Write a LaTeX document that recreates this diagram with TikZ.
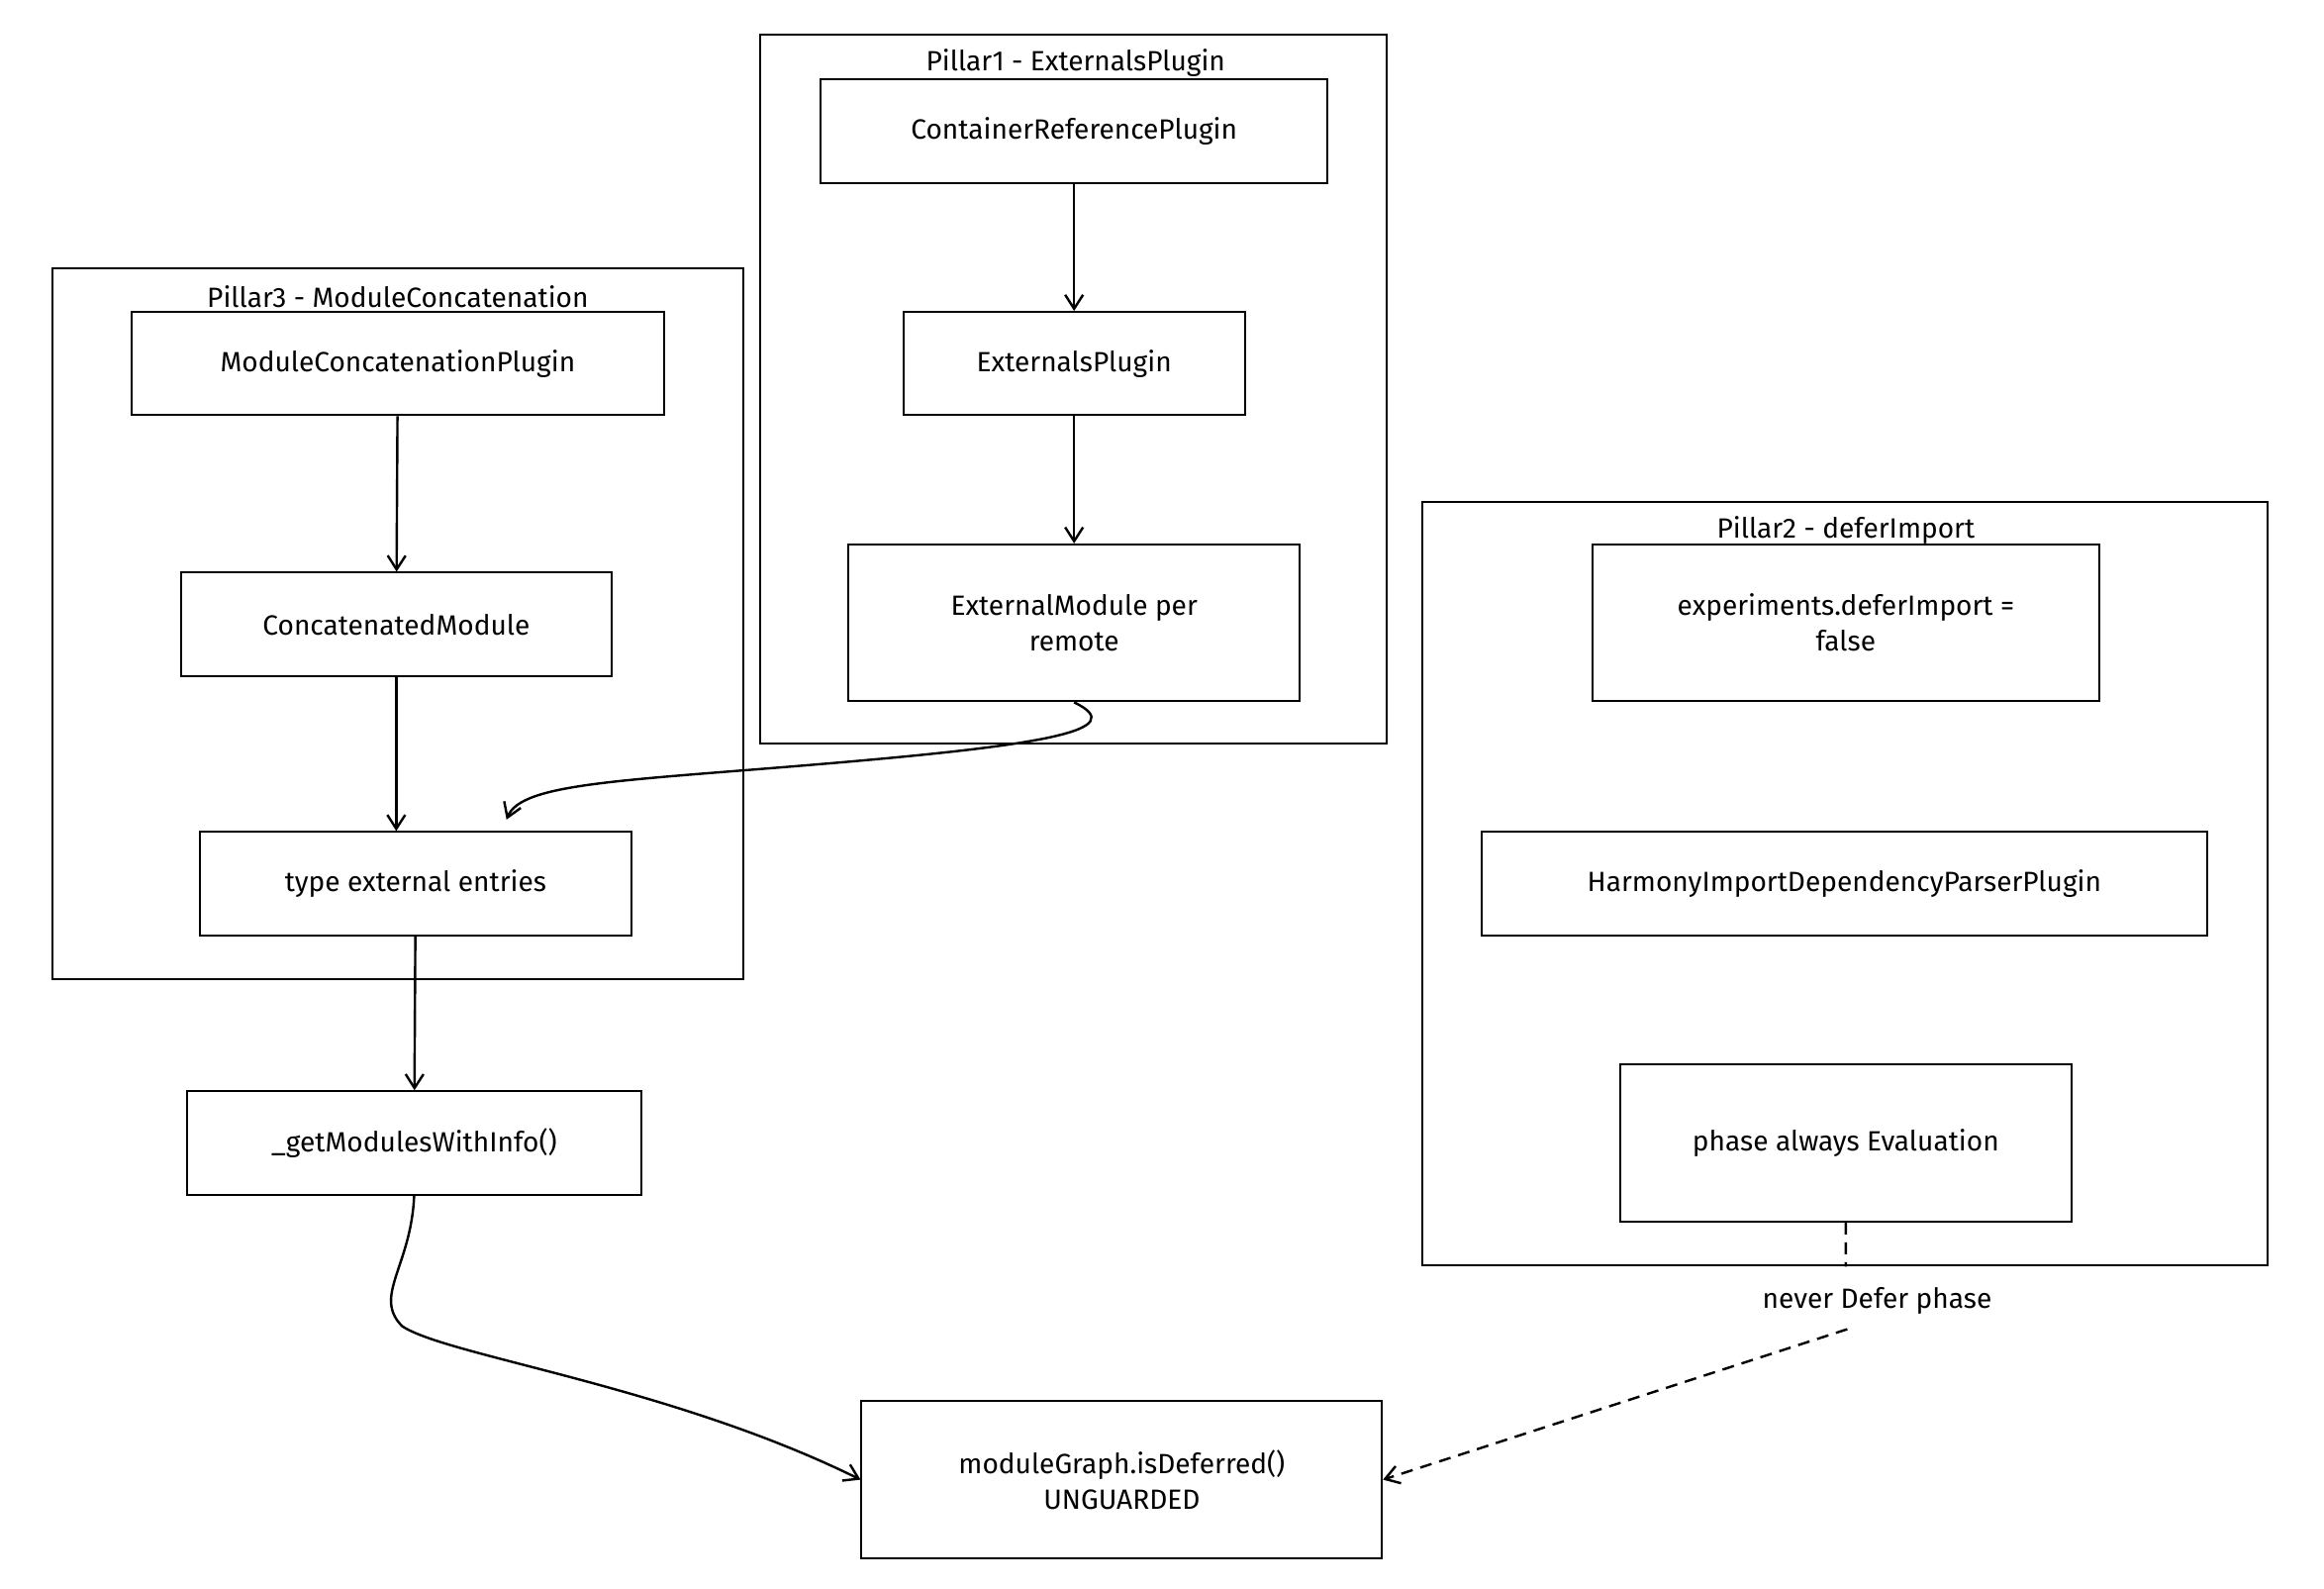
\documentclass[tikz,border=0pt]{standalone}
\usepackage{fontspec}
\setmainfont{Fira Sans}
\usetikzlibrary{arrows.meta}
\begin{document}
\begin{tikzpicture}[x=0.75pt,y=0.75pt,yscale=-1,xscale=1,
  box/.style={draw,line width=1pt,font=\fontsize{14}{18}\selectfont,align=center},
  frame/.style={draw,line width=1pt},
  ttl/.style={font=\fontsize{14}{16}\selectfont,inner sep=0.75pt},
  arr/.style={line width=1.2pt,-{Straight Barb[length=7pt,width=9pt]}}]
	\useasboundingbox (0,0) rectangle (1560,1066);
	
	%Frames
	\draw [frame] (510,23) rectangle (931,499);
	\node [ttl] (t1) at (722,42) {Pillar1 - ExternalsPlugin};
	\draw [frame] (35,180) rectangle (499,657);
	\node [ttl] (t3) at (267,199) {Pillar3 - ModuleConcatenation};
	\draw [frame] (955,337) rectangle (1522,849);
	\node [ttl] (t2) at (1239,356) {Pillar2 - deferImport};
	
	%Boxes
	\node [box,minimum width=255pt,minimum height=52pt] (crp) at (721,88) {ContainerReferencePlugin};
	\node [box,minimum width=172pt,minimum height=52pt] (ep) at (721,244) {ExternalsPlugin};
	\node [box,minimum width=227pt,minimum height=79pt] (em) at (721,418) {ExternalModule per\\remote};
	\node [box,minimum width=268pt,minimum height=52pt] (mcp) at (267,244) {ModuleConcatenationPlugin};
	\node [box,minimum width=217pt,minimum height=52pt] (cm) at (266,419) {ConcatenatedModule};
	\node [box,minimum width=217pt,minimum height=52pt] (tee) at (279,593) {type external entries};
	\node [box,minimum width=229pt,minimum height=52pt] (gm) at (278,767) {\_getModulesWithInfo()};
	\node [box,minimum width=255pt,minimum height=79pt] (edi) at (1239,418) {experiments.deferImport =\\false};
	\node [box,minimum width=365pt,minimum height=52pt] (hid) at (1238,593) {HarmonyImportDependencyParserPlugin};
	\node [box,minimum width=227pt,minimum height=79pt] (pae) at (1239,767) {phase always Evaluation};
	\node [box,minimum width=262pt,minimum height=79pt] (mg) at (753,993) {moduleGraph.isDeferred()\\UNGUARDED};
	
	%Connectors
	\draw [arr] (crp) -- (ep);
	\draw [arr] (ep) -- (em);
	\draw [arr] (mcp) -- (cm);
	\draw [arr] (cm) -- (tee.north -| cm);
	\coordinate (teeIn) at (340,550);
	\draw [arr] (em.south) .. controls (760,490) and (700,500) .. (560,512) .. controls (420,524) and (350,525) .. (teeIn);
	\draw [arr] (tee) -- (gm);
	\draw [arr] (gm.south) .. controls (276,850) and (250,870) .. (270,890) .. controls (300,910) and (450,930) .. (mg.west);
	\draw [arr,dash pattern={on 6pt off 4pt}] (pae.south) -- (1239,850) (1240,892) -- (mg.east);
	\node [ttl] (lbl) at (1260,873) {never Defer phase};
\end{tikzpicture}
\end{document}
